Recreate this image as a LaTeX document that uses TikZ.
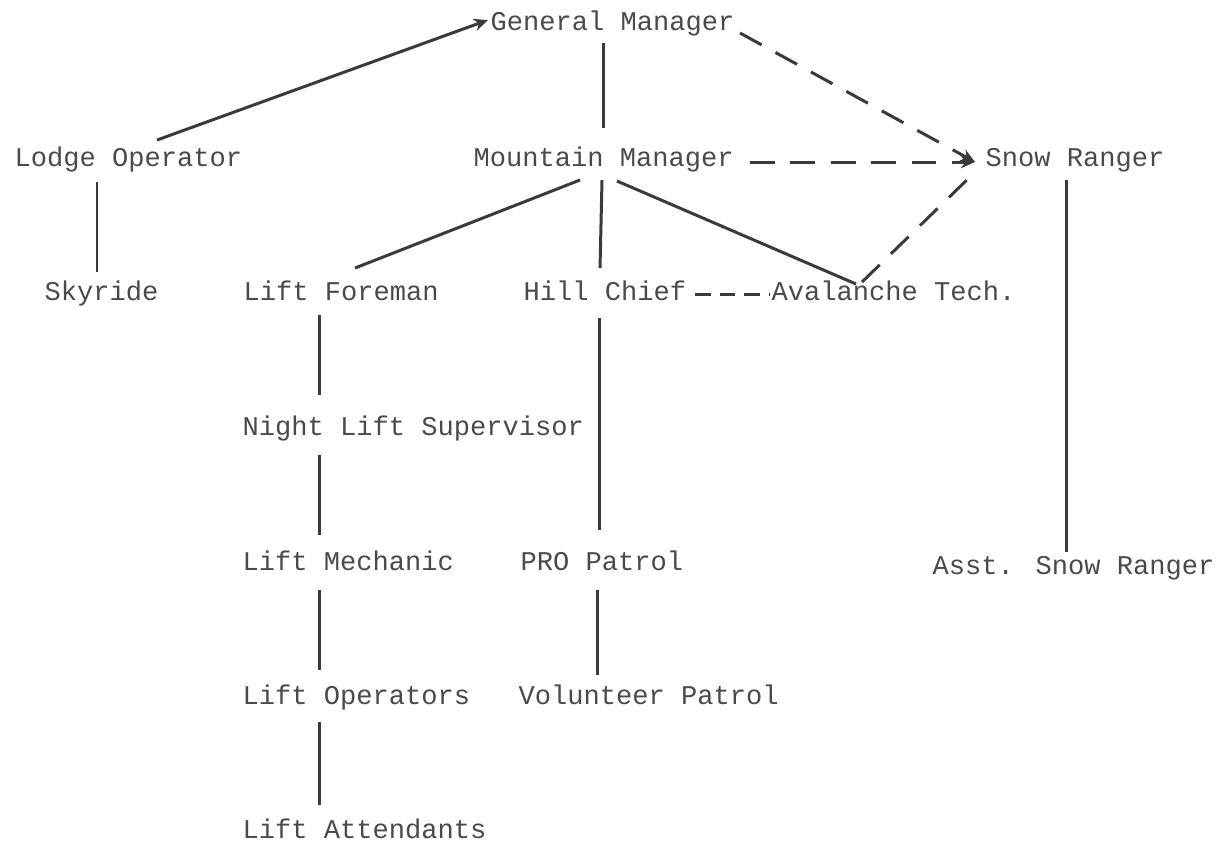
\documentclass[tikz,border=0pt]{standalone}
\usepackage{fontspec}
\newfontfamily\typer{Liberation Mono}
\usetikzlibrary{calc,arrows.meta}
\definecolor{inkgray}{HTML}{4A4A4A}
\definecolor{linegray}{HTML}{3A3A3A}

\begin{document}
\begin{tikzpicture}[
    x=0.01cm, y=-0.01cm,
    lbl/.style={font=\typer\fontsize{7.7}{9}\selectfont, text=inkgray, inner sep=0pt, anchor=base west},
    conn/.style={line width=0.85pt, linegray},
    dconn/.style={conn, dash pattern=on 7pt off 4.5pt},
    sdconn/.style={conn, dash pattern=on 4.5pt off 2.5pt},
    tip/.style={-{Stealth[length=4pt,width=3.5pt]}},
]
\useasboundingbox (0,0) rectangle (1219,847);
\node[lbl] (gm) at (490, 30) {General Manager};
\node[lbl] (lodge) at (14, 166) {Lodge Operator};
\node[lbl] (mtn) at (473, 166) {Mountain Manager};
\node[lbl] (snow) at (985, 166) {Snow Ranger};
\node[lbl] (sky) at (44, 300) {Skyride};
\node[lbl] (lfore) at (243, 300) {Lift Foreman};
\node[lbl] (hill) at (523, 300) {Hill Chief};
\node[lbl] (aval) at (771, 300) {Avalanche Tech.};
\node[lbl] (night) at (242, 435) {Night Lift Supervisor};
\node[lbl] (mech) at (242, 570) {Lift Mechanic};
\node[lbl] (pro) at (520, 570) {PRO Patrol};
\node[lbl] (asst) at (932, 574) {Asst. Snow Ranger};
\node[lbl] (ops) at (242, 704) {Lift Operators};
\node[lbl] (volun) at (518, 704) {Volunteer Patrol};
\node[lbl] (attend) at (242, 838) {Lift Attendants};
% top level
\draw[conn, tip] ($(lodge.base west)+(143,-26)$) -- ($(gm.base west)+(-2,-10)$);
\draw[conn] ($(gm.base west)+(113,13)$) -- ($(mtn.base west)+(130,-38)$);
\draw[dconn, tip] ($(gm.base west)+(250,3)$) -- ($(snow.base west)+(-10,-4)$);
\draw[dconn, tip] ($(mtn.base west)+(277,-4)$) -- ($(snow.base west)+(-10,-4)$);
\draw[dconn] ($(aval.base west)+(91,-18)$) -- ($(snow.base west)+(-10,6)$);
% mountain side
\draw[conn] ($(mtn.base west)+(107,14)$) -- ($(lfore.base west)+(112,-32)$);
\draw[conn] ($(mtn.base west)+(129,14)$) -- ($(hill.base west)+(77,-32)$);
\draw[conn] ($(mtn.base west)+(144,15)$) -- ($(aval.base west)+(85,-16)$);
\draw[sdconn] ($(hill.base west)+(172,-6)$) -- ($(aval.base west)+(-1,-6)$);
% down the chains
\draw[conn] ($(lodge.base west)+(83,16)$) -- ($(sky.base west)+(53,-28)$);
\draw[conn] ($(lfore.base west)+(76,15)$) -- ($(night.base west)+(77,-40)$);
\draw[conn] ($(night.base west)+(77,20)$) -- ($(mech.base west)+(77,-35)$);
\draw[conn] ($(mech.base west)+(77,20)$) -- ($(ops.base west)+(77,-34)$);
\draw[conn] ($(ops.base west)+(77,18)$) -- ($(attend.base west)+(77,-33)$);
\draw[conn] ($(hill.base west)+(76,18)$) -- ($(pro.base west)+(79,-40)$);
\draw[conn] ($(pro.base west)+(77,20)$) -- ($(volun.base west)+(79,-29)$);
\draw[conn] ($(snow.base west)+(81,14)$) -- ($(asst.base west)+(134,-22)$);
\end{tikzpicture}
\end{document}
